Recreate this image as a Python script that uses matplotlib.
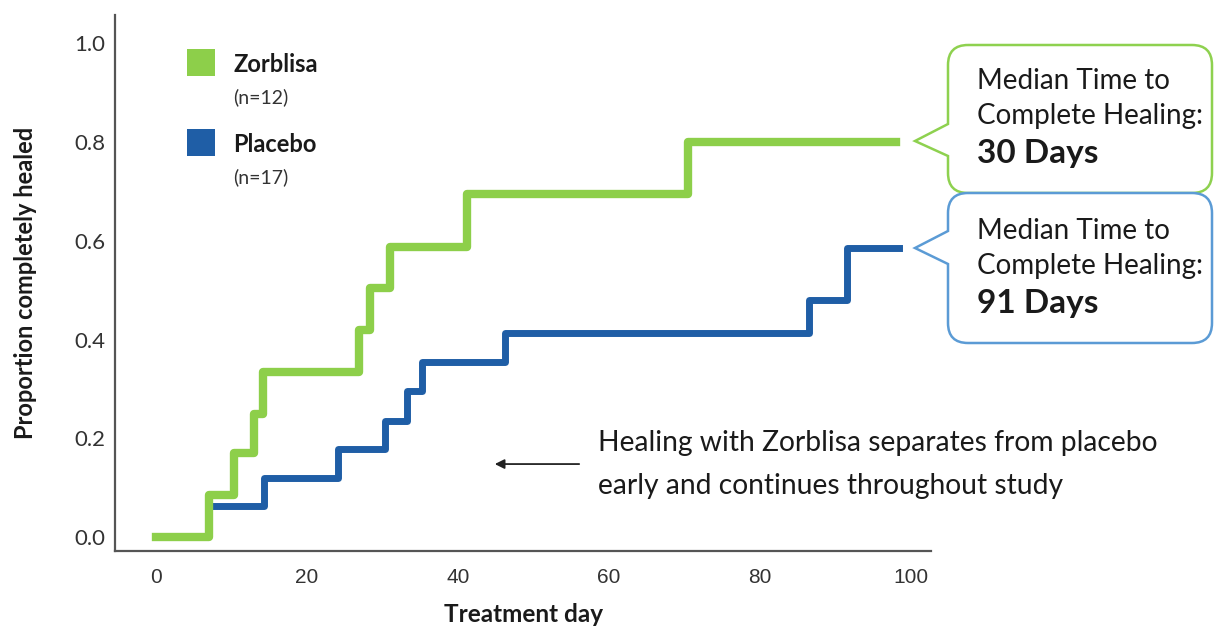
import matplotlib
matplotlib.use('Agg')
import matplotlib.pyplot as plt
from matplotlib.path import Path
from matplotlib.patches import PathPatch, Rectangle
from matplotlib.transforms import IdentityTransform

# Kaplan-Meier style step data
zorb_days = [0, 7.0, 10.3, 13.0, 14.2, 26.9, 28.3, 31.0, 41.2, 70.4, 98.0]
zorb_prop = [0, 0.085, 0.17, 0.25, 0.335, 0.42, 0.505, 0.588, 0.695, 0.80, 0.80]
plac_days = [7.7, 14.3, 24.1, 30.3, 33.3, 35.2, 46.2, 86.4, 91.5, 98.3]
plac_prop = [0.063, 0.12, 0.178, 0.236, 0.295, 0.355, 0.414, 0.48, 0.585, 0.585]

x_ticks = [0, 20, 40, 60, 80, 100]
y_ticks = [0.0, 0.2, 0.4, 0.6, 0.8, 1.0]

GREEN = '#8DCF4A'
BLUE = '#1F5EA6'
GREEN_EDGE = '#8ED14F'
BLUE_EDGE = '#5B9BD5'
TXT = '#1a1a1a'
FONT = 'Lato'

W, H = 1216, 629
fig = plt.figure(figsize=(W / 100, H / 100), dpi=100)
ax = fig.add_axes([115 / W, 1 - 551 / H, (931 - 115) / W, (551 - 15) / H])

ax.step(plac_days, plac_prop, where='post', color=BLUE, lw=5, solid_joinstyle='round')
ax.step(zorb_days, zorb_prop, where='post', color=GREEN, lw=6, solid_joinstyle='round')

ax.set_xlim(-5.4, 102.6)
ax.set_ylim(-0.028, 1.057)
ax.set_xticks(x_ticks)
ax.set_yticks(y_ticks)
ax.set_xticklabels([str(t) for t in x_ticks], fontfamily='Liberation Sans', fontsize=15, color='#333333')
ax.set_yticklabels(['%.1f' % t for t in y_ticks], fontfamily=FONT, fontsize=16, color='#333333')
ax.tick_params(axis='both', length=0)
ax.tick_params(axis='x', pad=12)
ax.tick_params(axis='y', pad=7)
for s in ['top', 'right']:
    ax.spines[s].set_visible(False)
for s in ['left', 'bottom']:
    ax.spines[s].set_color('#555555')
    ax.spines[s].set_linewidth(1.6)

ax.set_xlabel('Treatment day', fontfamily=FONT, fontweight='bold', fontsize=17.5, color=TXT, labelpad=12)
ax.set_ylabel('Proportion completely healed', fontfamily=FONT, fontweight='bold', fontsize=17, color=TXT, labelpad=27)


def fx(px):
    return px / W


def fy(py):
    return 1 - py / H


# legend
for (top, col, name, n) in [(49, GREEN, 'Zorblisa', '(n=12)'), (129, BLUE, 'Placebo', '(n=17)')]:
    fig.patches.append(Rectangle((fx(187), fy(top + 27)), 28 / W, 27 / H, transform=fig.transFigure,
                                 facecolor=col, edgecolor='none'))
    fig.text(fx(233), fy(top + 15), name, fontfamily=FONT, fontweight='bold', fontsize=17,
             color=TXT, va='center', ha='left')
    fig.text(fx(233), fy(top + 48), n, fontfamily=FONT, fontsize=14, color='#333333',
             va='center', ha='left')


def callout(left, right, top, bottom, tip_x, tip_y, base_top, base_bot, color, r=20):
    # pixel coords (y down) -> display coords (y up)
    def p(x, y):
        return (x, H - y)
    verts = [p(left + r, top), p(right - r, top), p(right, top), p(right, top + r),
             p(right, bottom - r), p(right, bottom), p(right - r, bottom),
             p(left + r, bottom), p(left, bottom), p(left, bottom - r),
             p(left, base_bot), p(tip_x, tip_y), p(left, base_top),
             p(left, top + r), p(left, top), p(left + r, top)]
    codes = [Path.MOVETO, Path.LINETO, Path.CURVE3, Path.CURVE3,
             Path.LINETO, Path.CURVE3, Path.CURVE3,
             Path.LINETO, Path.CURVE3, Path.CURVE3,
             Path.LINETO, Path.LINETO, Path.LINETO,
             Path.LINETO, Path.CURVE3, Path.CURVE3]
    patch = PathPatch(Path(verts, codes), facecolor='white', edgecolor=color, lw=1.8,
                      transform=IdentityTransform())
    fig.patches.append(patch)


callout(948, 1212, 45, 193, 915, 141, 124, 156, GREEN_EDGE)
callout(948, 1212, 193, 343, 915, 248, 231, 264, BLUE_EDGE)

for (y0, days) in [(81, '30 Days'), (231, '91 Days')]:
    fig.text(fx(977), fy(y0), 'Median Time to', fontfamily=FONT, fontsize=20, color=TXT, va='center')
    fig.text(fx(977), fy(y0 + 35), 'Complete Healing:', fontfamily=FONT, fontsize=20, color=TXT, va='center')
    fig.text(fx(977), fy(y0 + 73), days, fontfamily=FONT, fontweight='bold', fontsize=24, color=TXT, va='center')

# annotation
ax.annotate('', xy=(44.5, 0.148), xytext=(56.4, 0.148),
            arrowprops=dict(arrowstyle='-|>', color='#222222', lw=1.3, mutation_scale=14))
fig.text(fx(598), fy(443), 'Healing with Zorblisa separates from placebo', fontfamily=FONT,
         fontsize=20.3, color=TXT, va='center')
fig.text(fx(598), fy(486), 'early and continues throughout study', fontfamily=FONT,
         fontsize=20.3, color=TXT, va='center')

fig.savefig('out.png', dpi=100)
